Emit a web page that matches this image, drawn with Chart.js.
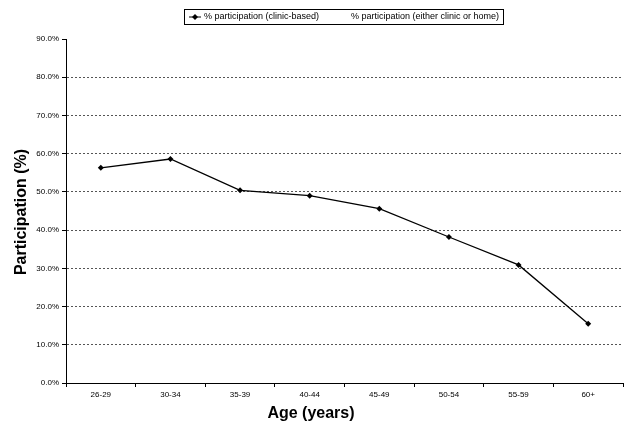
<!DOCTYPE html>
<html>
<head>
<meta charset="utf-8">
<script src="https://cdn.jsdelivr.net/npm/chart.js@4"></script>
<style>
  html, body { margin: 0; padding: 0; background: #fff; }
  #wrap { width: 627px; height: 426px; }
</style>
</head>
<body>
<div id="wrap"><canvas id="chart"></canvas></div>
<script>
// Data
const ageGroups = ['26-29', '30-34', '35-39', '40-44', '45-49', '50-54', '55-59', '60+'];
const clinicBased = [56.3, 58.6, 50.4, 49.0, 45.6, 38.2, 30.9, 15.5];
const eitherClinicOrHome = []; // listed in legend, no plotted values
const seriesNames = ['% participation (clinic-based)', '% participation (either clinic or home)'];
const xTitle = 'Age (years)';
const yTitle = 'Participation (%)';

const FONT = "'Liberation Sans', Arial, sans-serif";

// Boxed legend + axis titles drawn on the canvas (old spreadsheet look)
const sheetDecor = {
    id: 'sheetDecor',
    afterDraw(chart) {
        const ctx = chart.ctx;
        const x0 = 184, y0 = 9, w = 319, h = 15;
        ctx.save();
        ctx.strokeStyle = '#000';
        ctx.lineWidth = 1;
        ctx.strokeRect(x0 + 0.5, y0 + 0.5, w, h);

        // sample line + diamond for the first series
        const my = y0 + h / 2 + 0.5;
        ctx.beginPath();
        ctx.moveTo(x0 + 5, my);
        ctx.lineTo(x0 + 17, my);
        ctx.stroke();
        ctx.beginPath();
        ctx.moveTo(x0 + 11, my - 3);
        ctx.lineTo(x0 + 14, my);
        ctx.lineTo(x0 + 11, my + 3);
        ctx.lineTo(x0 + 8, my);
        ctx.closePath();
        ctx.fillStyle = '#000';
        ctx.fill();

        ctx.font = '9px ' + FONT;
        ctx.textBaseline = 'middle';
        ctx.fillText(chart.data.datasets[0].label, x0 + 20, my);
        ctx.fillText(chart.data.datasets[1].label, x0 + 167, my);

        // axis titles
        ctx.font = 'bold 16px ' + FONT;
        ctx.textAlign = 'center';
        ctx.textBaseline = 'middle';
        ctx.fillText(xTitle, 311, 414);
        ctx.translate(22, 212);
        ctx.rotate(-Math.PI / 2);
        ctx.fillText(yTitle, 0, 0);
        ctx.restore();
    }
};

new Chart(document.getElementById('chart'), {
    type: 'line',
    data: {
        labels: ageGroups,
        datasets: [{
            label: seriesNames[0],
            data: clinicBased,
            borderColor: '#000',
            backgroundColor: '#000',
            borderWidth: 1.3,
            pointStyle: 'rectRot',
            pointRadius: 3,
            pointBorderWidth: 0,
            tension: 0
        }, {
            label: seriesNames[1],
            data: eitherClinicOrHome,
            borderColor: '#000',
            pointRadius: 0
        }]
    },
    options: {
        responsive: true,
        maintainAspectRatio: false,
        animation: false,
        layout: { padding: { top: 39, right: 4, left: 0, bottom: 0 } },
        plugins: {
            legend: { display: false },
            tooltip: { enabled: false }
        },
        scales: {
            x: {
                offset: true,
                afterFit: (s) => { s.height = 43; },
                border: { color: '#000', width: 1 },
                grid: {
                    offset: true,
                    drawOnChartArea: false,
                    drawTicks: true,
                    tickLength: 4,
                    color: '#000'
                },
                ticks: { color: '#000', font: { family: FONT, size: 8 }, padding: 3, maxRotation: 0 }
            },
            y: {
                min: 0,
                max: 90,
                afterFit: (s) => { s.width = 66; },
                border: { color: '#000', width: 1, dash: [2, 2] },
                grid: {
                    drawTicks: true,
                    tickLength: 4,
                    tickColor: '#000',
                    tickBorderDash: [],
                    color: (c) => (c.tick && (c.tick.value === 0 || c.tick.value === 90)) ? 'rgba(0,0,0,0)' : '#555',
                    lineWidth: 1
                },
                ticks: {
                    stepSize: 10,
                    color: '#000',
                    padding: 3,
                    font: { family: FONT, size: 8 },
                    callback: (v) => v.toFixed(1) + '%'
                }
            }
        }
    },
    plugins: [sheetDecor]
});
</script>
</body>
</html>
